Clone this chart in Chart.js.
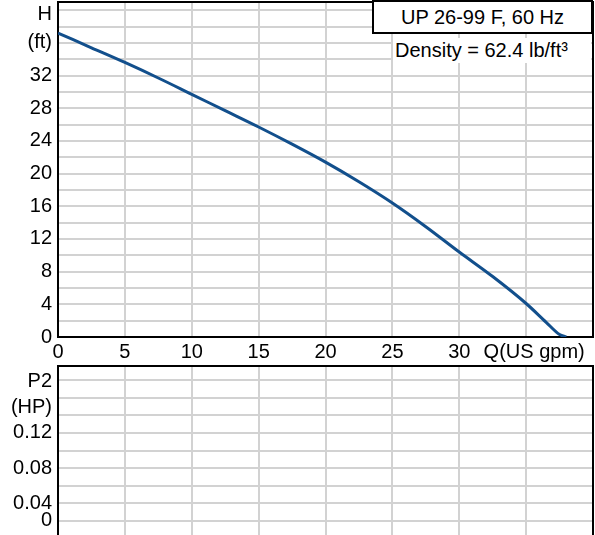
<!DOCTYPE html>
<html>
<head>
<meta charset="utf-8">
<script src="https://cdn.jsdelivr.net/npm/chart.js@4"></script>
<style>
  html, body { margin: 0; padding: 0; background: #fff; overflow: hidden; }
  #wrap { position: relative; width: 595px; height: 535px; font-family: 'Liberation Sans', Arial, sans-serif; }
  #top { position: absolute; left: 0; top: 0; }
  #bottom { position: absolute; left: 0; top: 364px; }
  .title { position: absolute; left: 372px; top: 0; width: 221px; height: 34px; box-sizing: border-box;
    border: 2px solid #000; background: #fff; font-size: 20px; text-align: center; line-height: 30px; }
  .dens { position: absolute; left: 393px; top: 38px; width: 198px; height: 25px; background: #fff;
    font-size: 20px; line-height: 25px; padding-left: 2px; box-sizing: border-box; }
</style>
</head>
<body>
<div id="wrap">
  <canvas id="top" width="595" height="364"></canvas>
  <canvas id="bottom" width="595" height="171"></canvas>
  <div class="title">UP 26-99 F, 60 Hz</div>
  <div class="dens">Density = 62.4 lb/ft³</div>
</div>
<script>
// pump curve
const flow = [0, 2.5, 5, 7.5, 10, 12.5, 15, 17.5, 20, 22.5, 25, 27.5, 30, 32.5, 35, 36.5, 37.5, 38]
const head = [37.2, 35.4, 33.6, 31.7, 29.7, 27.7, 25.7, 23.6, 21.4, 19.0, 16.4, 13.5, 10.4, 7.4, 4.1, 1.8, 0.3, 0]

// tick labels
const flowTicks = [0, 5, 10, 15, 20, 25, 30]
const flowUnit = 'Q(US gpm)'
const headTicks = [0, 4, 8, 12, 16, 20, 24, 28, 32]
const headUnit = ['H', '(ft)']
const p2TickValues = [0.02, 0.04, 0.08, 0.12]
const p2TickLabels = ['0', '0.04', '0.08', '0.12']
const p2Unit = ['P2', '(HP)']

const FONT = { family: "'Liberation Sans', Arial, sans-serif", size: 20 }

function range(a, b, step) {
  let out = []
  for (let v = a; v <= b + 1e-9; v += step) out.push(Math.round(v * 1000) / 1000)
  return out
}

function makeTicks(gridVals, labelled) {
  // labelled: [{value, label}] ; grid ticks get '' label unless labelled
  let list = gridVals.map(v => ({ value: v, grid: true, text: '' }))
  labelled.forEach(l => {
    let t = list.find(t => Math.abs(t.value - l.value) < 1e-6)
    if (t) t.text = l.label
    else list.push({ value: l.value, grid: false, text: l.label })
  })
  list.sort((a, b) => a.value - b.value)
  return list
}

const gridColor = ctx => (ctx.tick && ctx.tick.grid) ? '#d2d2d2' : 'rgba(0,0,0,0)'

const frame = {
  id: 'frame',
  beforeDatasetsDraw(chart, args, opts) {
    const a = chart.chartArea, c = chart.ctx
    c.save()
    c.strokeStyle = '#000'
    c.lineWidth = 2
    c.beginPath()
    if (opts.open) {
      c.moveTo(a.left, a.bottom + 2); c.lineTo(a.left, a.top)
      c.lineTo(a.right, a.top); c.lineTo(a.right, a.bottom + 2)
    } else {
      c.rect(a.left, a.top, a.right - a.left, a.bottom - a.top)
    }
    c.stroke()
    c.restore()
  }
}

function noPad(scale) {
  scale.paddingTop = 0; scale.paddingBottom = 0
  scale.paddingLeft = 0; scale.paddingRight = 0
}

const xLabelled = flowTicks.map(v => ({ value: v, label: String(v) })).concat([{ value: 35.6, label: flowUnit }])
const yLabelled = headTicks.map(v => ({ value: v, label: String(v) })).concat([{ value: 37.7, label: headUnit }])

new Chart(document.getElementById('top'), {
  type: 'line',
  plugins: [frame],
  data: {
    datasets: [{
      data: flow.map((q, i) => ({ x: q, y: head[i] })),
      borderColor: '#124f8c',
      borderWidth: 3,
      pointRadius: 0,
      cubicInterpolationMode: 'monotone',
      fill: false
    }]
  },
  options: {
    responsive: false,
    animation: false,
    layout: { padding: { top: 2, right: 2, left: 0, bottom: 0 } },
    plugins: { legend: { display: false }, tooltip: { enabled: false }, frame: { open: false } },
    scales: {
      x: {
        type: 'linear', min: 0, max: 40,
        afterBuildTicks: s => { s.ticks = makeTicks(range(0, 40, 5), xLabelled) },
        afterFit: s => { s.height = 27; noPad(s) },
        grid: { color: gridColor, lineWidth: 2, drawTicks: false },
        border: { display: false },
        ticks: {
          autoSkip: false, maxRotation: 0, minRotation: 0, padding: 1,
          color: '#000', font: Object.assign({ lineHeight: 1.4 }, FONT),
          callback: function (v, i, t) { return t[i].text }
        }
      },
      y: {
        type: 'linear', min: 0, max: 41,
        afterBuildTicks: s => { s.ticks = makeTicks(range(0, 40, 2), yLabelled) },
        afterFit: s => { s.width = 58; noPad(s) },
        grid: { color: gridColor, lineWidth: 2, drawTicks: false },
        border: { display: false },
        ticks: {
          autoSkip: false, padding: 6,
          color: '#000', font: Object.assign({ lineHeight: 1.4 }, FONT),
          callback: function (v, i, t) { return t[i].text }
        }
      }
    }
  }
})

const p2Labelled = p2TickValues.map((v, i) => ({ value: v, label: p2TickLabels[i] })).concat([{ value: 0.164, label: p2Unit }])

new Chart(document.getElementById('bottom'), {
  type: 'line',
  plugins: [frame],
  data: { datasets: [{ data: [] }] },
  options: {
    responsive: false,
    animation: false,
    layout: { padding: { top: 2, right: 2, left: 0, bottom: 0 } },
    plugins: { legend: { display: false }, tooltip: { enabled: false }, frame: { open: true } },
    scales: {
      x: {
        type: 'linear', min: 0, max: 40,
        afterBuildTicks: s => { s.ticks = makeTicks(range(0, 40, 5), []) },
        afterFit: s => { s.height = 0; noPad(s) },
        grid: { color: gridColor, lineWidth: 2, drawTicks: false },
        border: { display: false },
        ticks: { display: false }
      },
      y: {
        type: 'linear', min: 0.004, max: 0.196,
        afterBuildTicks: s => { s.ticks = makeTicks(range(0.02, 0.18, 0.02), p2Labelled) },
        afterFit: s => { s.width = 58; noPad(s) },
        grid: { color: gridColor, lineWidth: 2, drawTicks: false },
        border: { display: false },
        ticks: {
          autoSkip: false, padding: 6,
          color: '#000', font: Object.assign({ lineHeight: 1.3 }, FONT),
          callback: function (v, i, t) { return t[i].text }
        }
      }
    }
  }
})
</script>
</body>
</html>
